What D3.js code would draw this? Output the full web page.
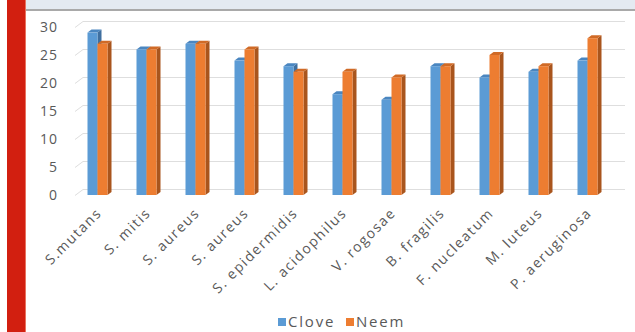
<!DOCTYPE html>
<html lang="en">
<head>
    <meta charset="UTF-8">
    <title>Clove vs Neem</title>
    <script src="https://cdn.jsdelivr.net/npm/d3@7"></script>
    <style>
        html, body { margin: 0; padding: 0; background: #fff; }
        svg { display: block; font-family: "Open Sans", "Noto Sans", sans-serif; }
    </style>
</head>
<body>
    <div id="chart"></div>

    <script>
        const categories = ["S.mutans", "S. mitis", "S. aureus", "S. aureus", "S. epidermidis",
            "L. acidophilus", "V. rogosae", "B. fragilis", "F. nucleatum", "M. luteus", "P. aeruginosa"];
        const series = ["Clove", "Neem"];
        const cloveValues = [29, 26, 27, 24, 23, 18, 17, 23, 21, 22, 24];
        const neemValues = [27, 26, 27, 26, 22, 22, 21, 23, 25, 23, 28];
        const yTicks = [0, 5, 10, 15, 20, 25, 30];

        const width = 635;
        const height = 332;
        const depthX = 4, depthY = 3;   // bar depth
        const wallX = 8, wallY = 6;     // back wall offset

        const colors = { Clove: "#5b9bd5", Neem: "#ed7d31" };
        const sideColors = { Clove: "#3f6f9f", Neem: "#a9551d" };
        const topColors = { Clove: "#4a86c0", Neem: "#d06a26" };

        const svg = d3.select("#chart").append("svg")
            .attr("width", width)
            .attr("height", height);

        // page decoration: red side bar and top strip
        svg.append("rect").attr("x", 7).attr("y", 0).attr("width", 18).attr("height", height).attr("fill", "#d21f10");
        svg.append("rect").attr("x", 25).attr("y", 0).attr("width", 1).attr("height", height).attr("fill", "#e8735f");
        svg.append("rect").attr("x", 26).attr("y", 0).attr("width", width - 26).attr("height", 9).attr("fill", "#e4eaf1");
        svg.append("rect").attr("x", 26).attr("y", 9).attr("width", width - 26).attr("height", 2).attr("fill", "#a9a9a9");

        const x = d3.scaleBand()
            .domain(d3.range(categories.length))
            .range([73, 612]);

        const xSub = d3.scaleBand()
            .domain(series)
            .range([0, 20]);

        const y = d3.scaleLinear()
            .domain([0, 30])
            .range([195, 27]);

        // gridlines on the back wall
        const grid = svg.append("g").attr("stroke", "#dedede").attr("stroke-width", 1).attr("fill", "none");
        yTicks.forEach(t => {
            const yy = Math.round(y(t)) + 0.5;
            grid.append("path")
                .attr("d", `M75,${yy} L${75 + wallX},${yy - wallY} L625,${yy - wallY}`);
        });

        // y labels
        svg.append("g")
            .selectAll("text")
            .data(yTicks)
            .join("text")
            .attr("x", 58)
            .attr("y", d => y(d))
            .attr("dy", "0.35em")
            .attr("text-anchor", "end")
            .attr("font-size", 14)
            .attr("letter-spacing", 1)
            .attr("fill", "#595959")
            .text(d => d);

        const rows = categories.map((c, i) => ({ i, values: [
            { key: "Clove", value: cloveValues[i] },
            { key: "Neem", value: neemValues[i] }
        ] }));

        const bw = xSub.bandwidth();
        const y0 = y(0);

        const groups = svg.append("g")
            .selectAll("g")
            .data(rows)
            .join("g")
            .attr("transform", d => `translate(${x(d.i) + x.bandwidth() / 2 - 10},0)`);

        const bar = groups.selectAll("g")
            .data(d => d.values)
            .join("g")
            .attr("transform", d => `translate(${xSub(d.key)},0)`);

        // side face
        bar.append("path")
            .attr("fill", d => sideColors[d.key])
            .attr("d", d => {
                const yt = y(d.value);
                return `M${bw},${yt} L${bw + depthX},${yt - depthY} L${bw + depthX},${y0 - depthY} L${bw},${y0} Z`;
            });
        // top face
        bar.append("path")
            .attr("fill", d => topColors[d.key])
            .attr("d", d => {
                const yt = y(d.value);
                return `M0,${yt} L${depthX},${yt - depthY} L${bw + depthX},${yt - depthY} L${bw},${yt} Z`;
            });
        // front face
        bar.append("rect")
            .attr("x", 0)
            .attr("y", d => y(d.value))
            .attr("width", bw)
            .attr("height", d => y0 - y(d.value))
            .attr("fill", d => colors[d.key]);

        // category labels, rotated
        svg.append("g")
            .selectAll("text")
            .data(categories)
            .join("text")
            .attr("text-anchor", "end")
            .attr("font-size", 14)
            .attr("letter-spacing", 1.5)
            .attr("fill", "#595959")
            .attr("transform", (d, i) => `translate(${x(i) + x.bandwidth() / 2 + 5},${214}) rotate(-45)`)
            .text(d => d);

        // legend
        const legend = svg.append("g").attr("transform", "translate(278,318)");
        const items = [{ key: "Clove", x: 0 }, { key: "Neem", x: 68 }];
        items.forEach(it => {
            legend.append("rect").attr("x", it.x).attr("y", 0).attr("width", 8).attr("height", 8).attr("fill", colors[it.key]);
            legend.append("text")
                .attr("x", it.x + 10)
                .attr("y", 4)
                .attr("dy", "0.35em")
                .attr("font-size", 15)
                .attr("letter-spacing", 1.8)
                .attr("fill", "#595959")
                .text(it.key);
        });
    </script>
</body>
</html>
